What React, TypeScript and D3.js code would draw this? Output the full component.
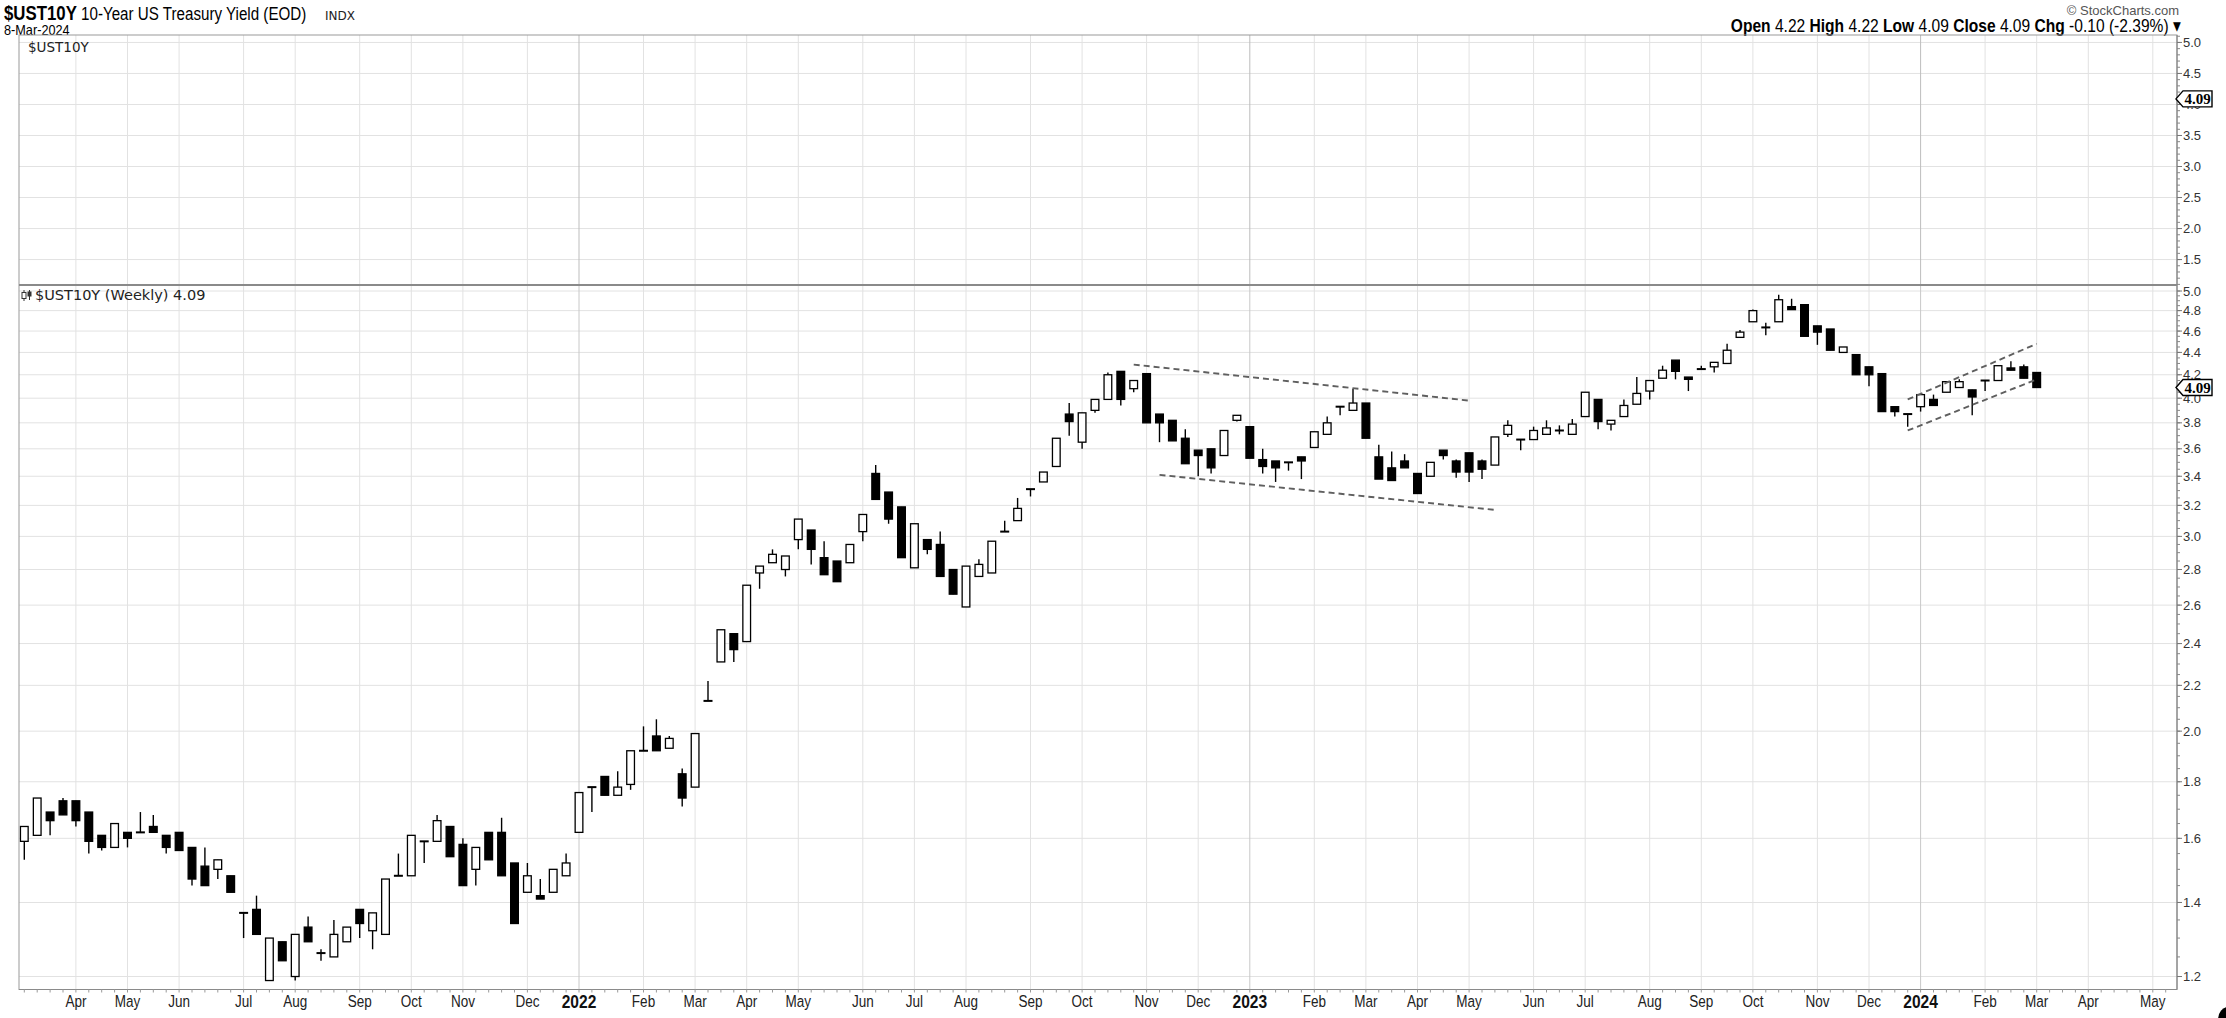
import React, { useEffect } from "react";
import * as d3 from "d3";

// ---------- DATA ----------
const FIRST_WEEK = "2021-03-08";

const opens = [
  1.59, 1.61, 1.69, 1.73, 1.73, 1.69, 1.61, 1.57, 1.62, 1.62,
  1.64, 1.61, 1.62, 1.57, 1.51, 1.50, 1.48, 1.37, 1.38, 1.19,
  1.29, 1.20, 1.33, 1.26, 1.25, 1.29, 1.38, 1.32, 1.31, 1.48,
  1.48, 1.59, 1.59, 1.64, 1.58, 1.50, 1.62, 1.62, 1.52, 1.43,
  1.42, 1.43, 1.48, 1.62, 1.78, 1.82, 1.75, 1.79, 1.92, 1.98,
  1.93, 1.83, 1.78, 2.13, 2.31, 2.45, 2.41, 2.78, 2.84, 2.80,
  2.98, 3.04, 2.87, 2.85, 2.84, 3.03, 3.42, 3.29, 3.19, 2.81,
  2.98, 2.95, 2.80, 2.59, 2.76, 2.78, 3.03, 3.10, 3.31, 3.36,
  3.47, 3.87, 3.65, 3.90, 3.99, 4.23, 4.08, 4.21, 3.87, 3.82,
  3.68, 3.59, 3.60, 3.55, 3.82, 3.77, 3.52, 3.51, 3.50, 3.54,
  3.61, 3.71, 3.93, 3.90, 3.96, 3.54, 3.46, 3.51, 3.42, 3.40,
  3.59, 3.51, 3.57, 3.51, 3.48, 3.71, 3.67, 3.67, 3.71, 3.74,
  3.71, 3.85, 3.99, 3.79, 3.85, 3.95, 4.06, 4.17, 4.33, 4.18,
  4.25, 4.27, 4.30, 4.54, 4.69, 4.64, 4.69, 4.84, 4.86, 4.65,
  4.62, 4.40, 4.38, 4.27, 4.21, 3.93, 3.87, 3.93, 3.99, 4.05,
  4.09, 4.07, 4.15, 4.15, 4.26, 4.27, 4.22,
];
const highs = [
  1.64, 1.74, 1.69, 1.74, 1.73, 1.69, 1.61, 1.65, 1.62, 1.69,
  1.68, 1.61, 1.62, 1.57, 1.57, 1.53, 1.48, 1.37, 1.42, 1.30,
  1.29, 1.31, 1.36, 1.27, 1.35, 1.33, 1.38, 1.37, 1.47, 1.55,
  1.61, 1.59, 1.68, 1.64, 1.60, 1.57, 1.62, 1.67, 1.52, 1.52,
  1.47, 1.50, 1.55, 1.76, 1.78, 1.82, 1.84, 1.92, 2.02, 2.05,
  1.98, 1.85, 1.99, 2.22, 2.47, 2.45, 2.71, 2.82, 2.92, 2.88,
  3.11, 3.04, 2.97, 2.85, 2.95, 3.14, 3.48, 3.29, 3.19, 3.08,
  2.98, 3.03, 2.80, 2.82, 2.86, 2.97, 3.10, 3.25, 3.31, 3.43,
  3.68, 3.96, 3.88, 3.99, 4.22, 4.23, 4.15, 4.21, 3.87, 3.82,
  3.75, 3.59, 3.60, 3.74, 3.86, 3.77, 3.60, 3.51, 3.50, 3.54,
  3.73, 3.85, 3.93, 4.08, 3.96, 3.63, 3.58, 3.56, 3.42, 3.50,
  3.59, 3.52, 3.57, 3.52, 3.69, 3.82, 3.67, 3.77, 3.82, 3.78,
  3.83, 4.05, 3.99, 3.82, 3.99, 4.18, 4.15, 4.28, 4.33, 4.18,
  4.28, 4.31, 4.48, 4.61, 4.81, 4.68, 4.96, 4.92, 4.86, 4.65,
  4.62, 4.45, 4.38, 4.27, 4.21, 3.93, 3.87, 4.03, 4.03, 4.14,
  4.16, 4.07, 4.15, 4.28, 4.32, 4.29, 4.22,
];
const lows = [
  1.53, 1.61, 1.61, 1.68, 1.64, 1.55, 1.56, 1.57, 1.57, 1.62,
  1.62, 1.55, 1.56, 1.45, 1.45, 1.47, 1.43, 1.30, 1.31, 1.19,
  1.24, 1.19, 1.29, 1.24, 1.25, 1.29, 1.30, 1.27, 1.31, 1.48,
  1.48, 1.52, 1.59, 1.54, 1.45, 1.45, 1.53, 1.48, 1.34, 1.43,
  1.41, 1.43, 1.48, 1.62, 1.69, 1.75, 1.75, 1.77, 1.92, 1.92,
  1.93, 1.71, 1.78, 2.13, 2.31, 2.31, 2.41, 2.69, 2.84, 2.76,
  2.92, 2.83, 2.77, 2.73, 2.84, 2.97, 3.24, 3.08, 2.87, 2.81,
  2.89, 2.76, 2.66, 2.59, 2.76, 2.78, 3.03, 3.10, 3.26, 3.36,
  3.47, 3.70, 3.60, 3.88, 3.99, 3.94, 4.05, 3.80, 3.65, 3.66,
  3.49, 3.40, 3.42, 3.55, 3.81, 3.53, 3.42, 3.36, 3.44, 3.38,
  3.61, 3.71, 3.86, 3.90, 3.68, 3.38, 3.37, 3.46, 3.28, 3.40,
  3.52, 3.39, 3.36, 3.38, 3.48, 3.69, 3.59, 3.67, 3.71, 3.71,
  3.71, 3.85, 3.75, 3.74, 3.85, 3.95, 3.99, 4.17, 4.16, 4.06,
  4.25, 4.22, 4.30, 4.54, 4.69, 4.56, 4.69, 4.81, 4.55, 4.47,
  4.42, 4.40, 4.20, 4.10, 3.89, 3.85, 3.77, 3.89, 3.94, 4.05,
  4.09, 3.86, 4.06, 4.15, 4.24, 4.17, 4.09,
];
const closes = [
  1.64, 1.74, 1.66, 1.68, 1.66, 1.59, 1.57, 1.65, 1.60, 1.62,
  1.62, 1.57, 1.56, 1.47, 1.45, 1.53, 1.43, 1.37, 1.31, 1.30,
  1.24, 1.31, 1.29, 1.26, 1.31, 1.33, 1.34, 1.37, 1.47, 1.48,
  1.61, 1.59, 1.66, 1.54, 1.45, 1.57, 1.53, 1.48, 1.34, 1.48,
  1.41, 1.50, 1.52, 1.76, 1.78, 1.75, 1.78, 1.92, 1.92, 1.92,
  1.97, 1.74, 1.99, 2.13, 2.47, 2.37, 2.71, 2.82, 2.89, 2.88,
  3.11, 2.92, 2.77, 2.73, 2.95, 3.14, 3.24, 3.11, 2.87, 3.08,
  2.92, 2.76, 2.66, 2.82, 2.83, 2.97, 3.03, 3.18, 3.31, 3.43,
  3.68, 3.81, 3.88, 3.99, 4.20, 3.99, 4.15, 3.80, 3.80, 3.66,
  3.49, 3.55, 3.46, 3.74, 3.86, 3.53, 3.47, 3.46, 3.50, 3.51,
  3.73, 3.80, 3.93, 3.96, 3.68, 3.38, 3.37, 3.46, 3.28, 3.50,
  3.55, 3.43, 3.43, 3.45, 3.69, 3.78, 3.67, 3.74, 3.76, 3.74,
  3.79, 4.05, 3.81, 3.82, 3.94, 4.04, 4.15, 4.24, 4.23, 4.16,
  4.25, 4.31, 4.42, 4.59, 4.80, 4.63, 4.91, 4.81, 4.55, 4.59,
  4.42, 4.45, 4.20, 4.20, 3.89, 3.89, 3.87, 4.03, 3.94, 4.14,
  4.14, 4.01, 4.15, 4.28, 4.24, 4.17, 4.09,
];

const monthTickDates = [
  "2021-04-05", "2021-05-03", "2021-05-31", "2021-07-05", "2021-08-02", "2021-09-06",
  "2021-10-04", "2021-11-01", "2021-12-06", "2022-01-03", "2022-02-07", "2022-03-07",
  "2022-04-04", "2022-05-02", "2022-06-06", "2022-07-04", "2022-08-01", "2022-09-05",
  "2022-10-03", "2022-11-07", "2022-12-05", "2023-01-02", "2023-02-06", "2023-03-06",
  "2023-04-03", "2023-05-01", "2023-06-05", "2023-07-03", "2023-08-07", "2023-09-04",
  "2023-10-02", "2023-11-06", "2023-12-04", "2024-01-01", "2024-02-05", "2024-03-04",
  "2024-04-01", "2024-05-06",
];
const monthTickLabels = [
  "Apr", "May", "Jun", "Jul", "Aug", "Sep", "Oct", "Nov", "Dec", "2022", "Feb", "Mar",
  "Apr", "May", "Jun", "Jul", "Aug", "Sep", "Oct", "Nov", "Dec", "2023", "Feb", "Mar",
  "Apr", "May", "Jun", "Jul", "Aug", "Sep", "Oct", "Nov", "Dec", "2024", "Feb", "Mar",
  "Apr", "May",
];

const mainYTicks = [1.2, 1.4, 1.6, 1.8, 2.0, 2.2, 2.4, 2.6, 2.8, 3.0, 3.2, 3.4, 3.6, 3.8, 4.0, 4.2, 4.4, 4.6, 4.8, 5.0];
const topYTicks = [1.5, 2.0, 2.5, 3.0, 3.5, 4.0, 4.5, 5.0];

const trendStartDates = ["2022-10-31", "2022-11-14", "2023-12-25", "2023-12-25"];
const trendStartValues = [4.29, 3.41, 3.99, 3.74];
const trendEndDates = ["2023-05-01", "2023-05-15", "2024-03-04", "2024-03-04"];
const trendEndValues = [3.98, 3.17, 4.48, 4.16];

const lastValue = 4.09;

// ---------- STYLE ----------
const SANS = "'Liberation Sans',Arial,sans-serif";
const VERD = "'DejaVu Sans',Verdana,sans-serif";
const NX = 0.82; // horizontal squeeze to emulate Arial Narrow

function NText(props: {
  x: number; y: number; size: number; anchor?: string; weight?: string; fill?: string; children: React.ReactNode;
}) {
  const { x, y, size, anchor = "start", weight = "normal", fill = "#000", children } = props;
  return (
    <text
      transform={`translate(${x},${y}) scale(${NX},1)`}
      fontFamily={SANS}
      fontSize={size}
      fontWeight={weight}
      textAnchor={anchor}
      fill={fill}
    >
      {children}
    </text>
  );
}

export default function App() {
  useEffect(() => {
    document.body.style.margin = "0";
  }, []);

  const W = 2226, H = 1018;
  const L = 19, R = 2177, T1 = 35, B1 = 285, B2 = 989.5;

  const parse = d3.timeParse("%Y-%m-%d");
  const start = parse(FIRST_WEEK) as Date;
  const weeks = opens.map((_, i) => d3.timeDay.offset(start, 7 * i));

  const x = d3.scaleTime().domain([weeks[0], weeks[weeks.length - 1]]).range([24.3, 2036.7]);
  const y = d3.scaleLog().domain([1.168, 5.063]).range([B2, B1]);
  const yTop = d3.scaleLinear().domain([1.09, 5.12]).range([B1, T1]);

  const monthTicks = monthTickDates.map((d, i) => ({ x: x(parse(d) as Date), label: monthTickLabels[i] }));
  const weekTicks = d3.range(-1, 170).map((i) => x(d3.timeDay.offset(start, 7 * i))).filter((v) => v > L && v < R);

  const minorMain = d3.range(24, 101).map((k) => k * 0.05).filter((v) => v > 1.17 && v < 5.06);
  const minorTop = d3.range(11, 52).map((k) => k * 0.1);

  const bw = 9;
  const isYear = (s: string) => /^\d{4}$/.test(s);

  const marker = (yy: number, key: string) => (
    <g key={key}>
      <polygon
        points={`${R - 1},${yy} ${R + 6},${yy - 8} ${R + 35},${yy - 8} ${R + 35},${yy + 8} ${R + 6},${yy + 8}`}
        fill="#fff"
        stroke="#000"
        strokeWidth={1.4}
      />
      <text x={R + 20.5} y={yy + 5} textAnchor="middle" fontFamily="'Liberation Serif','Times New Roman',serif" fontWeight="bold" fontSize={15} fill="#000">
        {lastValue.toFixed(2)}
      </text>
    </g>
  );

  return (
    <svg width={W} height={H} viewBox={`0 0 ${W} ${H}`} style={{ display: "block", background: "#fff" }}>
      <rect x={0} y={0} width={W} height={H} fill="#fff" />

      {/* header */}
      <text transform={`translate(4,19.5) scale(${NX},1)`} fontFamily={SANS} fill="#000">
        <tspan fontWeight="bold" fontSize={20.5}>$UST10Y</tspan>
        <tspan fontSize={18.5}> 10-Year US Treasury Yield (EOD) </tspan>
      </text>
      <text x={325} y={19.5} fontSize={12} fontFamily={VERD} fill="#222">INDX</text>
      <NText x={4} y={35} size={15.5}>8-Mar-2024</NText>
      <text x={2179} y={15} textAnchor="end" fontFamily={SANS} fontSize={13} fill="#555">© StockCharts.com</text>
      <text transform={`translate(2181,32) scale(${NX},1)`} textAnchor="end" fontFamily={SANS} fontSize={19} fill="#000">
        <tspan fontWeight="bold">Open</tspan>
        <tspan> 4.22  </tspan>
        <tspan fontWeight="bold">High</tspan>
        <tspan> 4.22  </tspan>
        <tspan fontWeight="bold">Low</tspan>
        <tspan> 4.09  </tspan>
        <tspan fontWeight="bold">Close</tspan>
        <tspan> 4.09  </tspan>
        <tspan fontWeight="bold">Chg</tspan>
        <tspan> -0.10 (-2.39%) ▾</tspan>
      </text>

      {/* grid: top panel */}
      {topYTicks.map((v) => (
        <line key={"tg" + v} x1={L} x2={R} y1={yTop(v)} y2={yTop(v)} stroke="#e2e2e2" strokeWidth={1} />
      ))}
      {monthTicks.map((t, i) => (
        <line key={"tv" + i} x1={t.x} x2={t.x} y1={T1} y2={B1} stroke={isYear(t.label) ? "#bdbdbd" : "#e2e2e2"} strokeWidth={1} />
      ))}

      {/* grid: main panel */}
      {mainYTicks.map((v) => (
        <line key={"mg" + v} x1={L} x2={R} y1={y(v)} y2={y(v)} stroke="#e2e2e2" strokeWidth={1} />
      ))}
      {monthTicks.map((t, i) => (
        <line key={"mv" + i} x1={t.x} x2={t.x} y1={B1} y2={B2} stroke={isYear(t.label) ? "#c8c8c8" : "#e2e2e2"} strokeWidth={1} />
      ))}

      {/* candles */}
      {opens.map((o, i) => {
        const c = closes[i];
        const cx = x(weeks[i]);
        const yo = y(o), yc = y(c);
        const top = Math.min(yo, yc), bot = Math.max(yo, yc);
        const bh = bot - top;
        const up = c > o;
        return (
          <g key={"c" + i}>
            <line x1={cx} x2={cx} y1={y(highs[i])} y2={y(lows[i])} stroke="#000" strokeWidth={1.4} />
            {bh < 1.8 ? (
              <rect x={cx - bw / 2} y={(top + bot) / 2 - 1} width={bw} height={2} fill="#000" />
            ) : (
              <rect x={cx - bw / 2 + 0.65} y={top} width={bw - 1.3} height={bh} fill={up ? "#fff" : "#000"} stroke="#000" strokeWidth={1.3} />
            )}
          </g>
        );
      })}

      {/* trend lines */}
      {trendStartDates.map((d, i) => (
        <line
          key={"tl" + i}
          x1={x(parse(d) as Date)}
          y1={y(trendStartValues[i])}
          x2={x(parse(trendEndDates[i]) as Date)}
          y2={y(trendEndValues[i])}
          stroke="#5f5f5f"
          strokeWidth={1.9}
          strokeDasharray="6,4"
        />
      ))}

      {/* panel borders */}
      <rect x={L} y={T1} width={R - L} height={B2 - T1} fill="none" stroke="#9a9a9a" strokeWidth={1} />
      <line x1={L} x2={R} y1={B1} y2={B1} stroke="#8a8a8a" strokeWidth={2} />
      <line x1={R} x2={R} y1={T1} y2={B2} stroke="#8a8a8a" strokeWidth={1.2} />
      <line x1={L} x2={R} y1={B2} y2={B2} stroke="#8a8a8a" strokeWidth={1.2} />

      {/* panel labels */}
      <text x={28} y={52} fontFamily={VERD} fontSize={13.5} fill="#222">$UST10Y</text>
      <g>
        <line x1={24} x2={24} y1={290} y2={301} stroke="#333" strokeWidth={1} />
        <rect x={22} y={292.5} width={4} height={6} fill="#fff" stroke="#333" strokeWidth={1} />
        <line x1={29.5} x2={29.5} y1={290} y2={300} stroke="#333" strokeWidth={1} />
        <rect x={27.5} y={291.5} width={4} height={5} fill="#333" />
      </g>
      <text x={35} y={300} fontFamily={VERD} fontSize={14.5} fill="#222">$UST10Y (Weekly) 4.09</text>

      {/* right axis: top panel */}
      {minorTop.map((v, i) => (
        <line key={"mt" + i} x1={R} x2={R + 3} y1={yTop(v)} y2={yTop(v)} stroke="#888" strokeWidth={1} />
      ))}
      {topYTicks.map((v) => (
        <g key={"tl" + v}>
          <line x1={R} x2={R + 5} y1={yTop(v)} y2={yTop(v)} stroke="#777" strokeWidth={1} />
          <text x={R + 6} y={yTop(v) + 4.5} fontFamily={SANS} fontSize={13} fill="#333">{v.toFixed(1)}</text>
        </g>
      ))}

      {/* right axis: main panel */}
      {minorMain.map((v, i) => (
        <line key={"mm" + i} x1={R} x2={R + 3} y1={y(v)} y2={y(v)} stroke="#888" strokeWidth={1} />
      ))}
      {mainYTicks.map((v) => (
        <g key={"ml" + v}>
          <line x1={R} x2={R + 5} y1={y(v)} y2={y(v)} stroke="#777" strokeWidth={1} />
          <text x={R + 6} y={y(v) + 4.5} fontFamily={SANS} fontSize={13} fill="#333">{v.toFixed(1)}</text>
        </g>
      ))}

      {marker(yTop(lastValue), "m1")}
      {marker(y(lastValue), "m2")}

      {/* bottom axis */}
      {weekTicks.map((v, i) => (
        <line key={"wt" + i} x1={v} x2={v} y1={B2} y2={B2 + 3} stroke="#999" strokeWidth={1} />
      ))}
      {monthTicks.map((t, i) =>
        isYear(t.label) ? (
          <NText key={"xl" + i} x={t.x} y={1008} size={19} anchor="middle" weight="bold" fill="#111">
            {t.label}
          </NText>
        ) : (
          <NText key={"xl" + i} x={t.x} y={1007} size={16.5} anchor="middle" fill="#222">
            {t.label}
          </NText>
        )
      )}

      <ellipse cx={2228} cy={1020} rx={10} ry={13} fill="#000" />
    </svg>
  );
}
